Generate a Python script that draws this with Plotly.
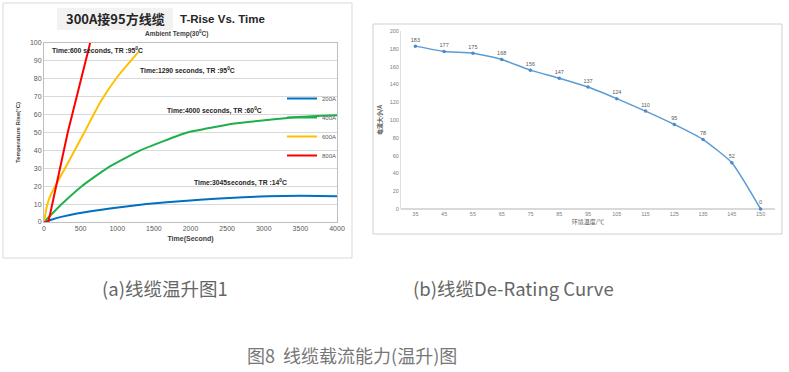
import plotly.graph_objects as go

W, H = 789, 372

# ---- (a) temperature rise data ----
t200 = [0, 100, 250, 450, 900, 1400, 1950, 2400, 3050, 3500, 4000]
T200 = [0, 1.3, 3.0, 4.8, 7.6, 10.0, 11.9, 13.1, 14.4, 14.6, 14.4]
t400 = [0, 242, 516, 858, 1315, 1954, 2600, 3050, 3500, 4000]
T400 = [0, 10, 20, 30, 40, 50, 55, 57, 58.8, 59.7]
t600 = [0, 40, 90, 300, 550, 770, 1000, 1290]
T600 = [0, 9, 15, 31, 50, 67, 81, 95]
t800 = [0, 60, 324, 448, 630]
T800 = [0, 0, 50, 70, 100]

# ---- (b) de-rating data ----
temps = ["35", "45", "55", "65", "75", "85", "95", "105", "115", "125", "135", "145", "150"]
amps = [183, 177, 175, 168, 156, 147, 137, 124, 110, 95, 78, 52, 0]

def px(x):
    return x / W

def py(y):
    return 1 - y / H

fig = go.Figure()
series = [("200A", t200, T200, "#0070C0", "spline"), ("400A", t400, T400, "#1DB04C", "spline"),
          ("600A", t600, T600, "#FFC000", "spline"), ("800A", t800, T800, "#FF0000", "linear")]
for name, tx, ty, col, shp in series:
    fig.add_trace(go.Scatter(x=tx, y=ty, name=name, mode="lines",
                             line=dict(color=col, width=2, shape=shp, smoothing=0.4),
                             xaxis="x", yaxis="y", cliponaxis=True))

fig.add_trace(go.Scatter(x=temps, y=amps, mode="lines+markers+text", text=[str(a) for a in amps],
                         textposition="top center",
                         textfont=dict(size=5.5, color="#595959", family="Liberation Sans"),
                         line=dict(color="#5B9BD5", width=1.5, shape="spline", smoothing=0.5),
                         marker=dict(size=3.5, color="#4A8AC8"),
                         xaxis="x2", yaxis="y2", showlegend=False, cliponaxis=False))

tickf = dict(size=7, color="#595959", family="Liberation Sans")
fig.update_layout(
    width=W, height=H, margin=dict(l=0, r=0, t=0, b=0, autoexpand=False),
    paper_bgcolor="white", plot_bgcolor="white",
    showlegend=True,
    legend=dict(x=px(282), y=py(84), xanchor="left", yanchor="top", bgcolor="rgba(0,0,0,0)",
                font=dict(size=6, color="#595959", family="Liberation Sans"),
                itemwidth=30, tracegroupgap=0),
    xaxis=dict(domain=[px(44), px(337)], range=[0, 4000], dtick=500, tick0=0, automargin=False,
               showgrid=False, showline=True, linecolor="#BFBFBF", mirror=True, zeroline=False,
               ticks="", tickfont=tickf, anchor="y",
               title=dict(text="<b>Time(Second)</b>", font=dict(size=7, color="#404040", family="Liberation Sans"), standoff=4)),
    yaxis=dict(domain=[py(222), py(43)], range=[0, 100], dtick=10, showgrid=True, gridcolor="#D9D9D9",
               showline=True, linecolor="#BFBFBF", mirror=True, zeroline=False, ticks="", automargin=False,
               tickfont=tickf, anchor="x",
               title=dict(text="<b>Temperature Rise(°C)</b>", font=dict(size=6, color="#404040", family="Liberation Sans"), standoff=8)),
    xaxis2=dict(domain=[px(401), px(775)], range=[-0.5, 12.5], type="category", automargin=False,
                showgrid=False, showline=False, zeroline=False, ticks="",
                tickfont=dict(size=5.5, color="#7F7F7F", family="Liberation Sans"), anchor="y2",
                title=dict(text="环境温度/℃", font=dict(size=6, color="#595959", family="Noto Sans CJK SC"), standoff=4)),
    yaxis2=dict(domain=[py(209), py(31)], range=[0, 200], dtick=20, showgrid=False, automargin=False,
                showline=True, linecolor="#E0E0E0", zeroline=True, zerolinecolor="#D9D9D9", ticks="",
                tickfont=dict(size=5.5, color="#7F7F7F", family="Liberation Sans"), anchor="x2",
                title=dict(text="<b>电流大小/A</b>", font=dict(size=6, color="#595959", family="Noto Sans CJK SC"), standoff=6)),
)

# panel borders and title box
fig.add_shape(type="rect", xref="paper", yref="paper", x0=px(3), x1=px(352), y0=py(258), y1=py(3),
              line=dict(color="#D9D9D9", width=1), layer="below")
fig.add_shape(type="rect", xref="paper", yref="paper", x0=px(373), x1=px(782), y0=py(234), y1=py(24),
              line=dict(color="#D0D0D0", width=1), layer="below")
fig.add_shape(type="rect", xref="paper", yref="paper", x0=px(57), x1=px(173), y0=py(30), y1=py(8),
              line=dict(width=0), fillcolor="#F2F2F2", layer="below")

def ann(text, x, y, size, color="#262626", family="Liberation Sans", xanchor="left"):
    fig.add_annotation(text=text, x=px(x), y=py(y), xref="paper", yref="paper", showarrow=False,
                       xanchor=xanchor, yanchor="middle", font=dict(size=size, color=color, family=family))

ann("<b>300A接95方线缆</b>", 115, 19, 13, "#262626", "Noto Sans CJK SC", "center")
ann("<b>T-Rise Vs. Time</b>", 178, 19, 11.5, "#262626")
ann("<b>Ambient Temp(30<sup>0</sup>C)</b>", 176, 33, 6.5, "#404040", xanchor="center")
ann("<b>Time:600 seconds, TR :95<sup>0</sup>C</b>", 50, 50, 6.8)
ann("<b>Time:1290 seconds, TR :95<sup>0</sup>C</b>", 138, 70, 6.8)
ann("<b>Time:4000 seconds, TR :60<sup>0</sup>C</b>", 165, 111, 6.8)
ann("<b>Time:3045seconds, TR :14<sup>0</sup>C</b>", 192, 182, 6.8)

ann("(a)线缆温升图1", 165, 288, 18.5, "#666666", "Noto Sans CJK SC", "center")
ann("(b)线缆De-Rating Curve", 513, 288, 18.5, "#666666", "Noto Sans CJK SC", "center")
ann("图8  线缆载流能力(温升)图", 352, 355, 18, "#777777", "Noto Sans CJK SC", "center")

fig.write_html("out.html", config={"displayModeBar": False},
               post_script="document.body.style.margin='0';document.body.style.overflow='hidden';")
